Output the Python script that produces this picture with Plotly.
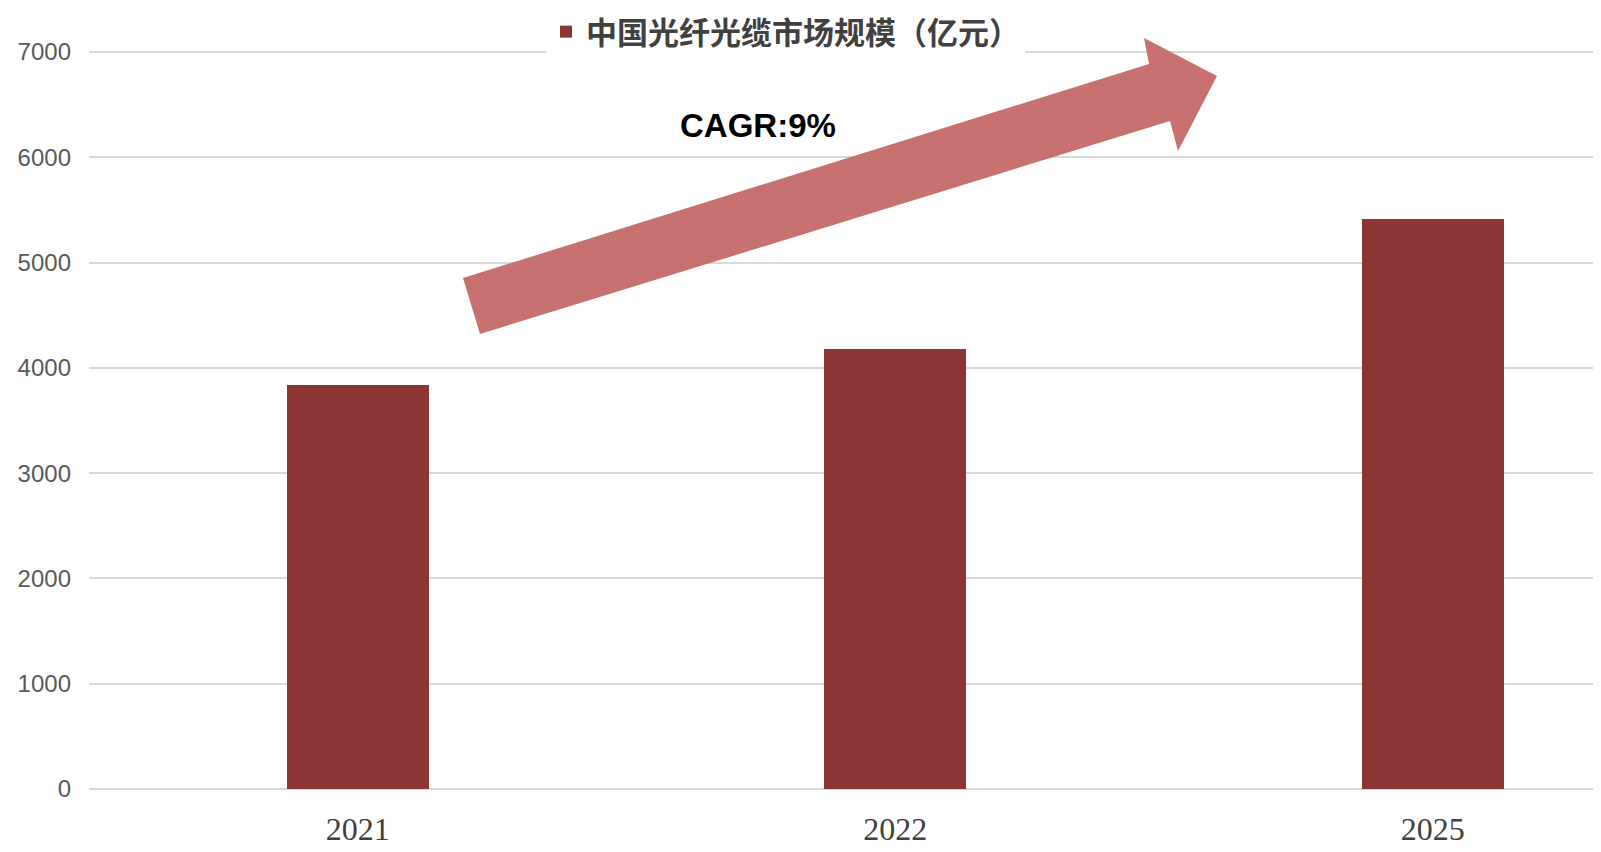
import plotly.graph_objects as go

years = ["2021", "2022", "2025"]
market_size = [3835, 4176, 5412]
series_name = "中国光纤光缆市场规模（亿元）"
y_ticks = [0, 1000, 2000, 3000, 4000, 5000, 6000, 7000]
cagr_label = "CAGR:9%"

# the page body adds an 8px offset; screen coords below are page coordinates
OFF = 8
W, H = 1601, 852
L, R, T, B = 81, 0, 43, 71
PW, PH = W - L - R, H - T - B
X0 = L + OFF            # screen x of plot left
Y0 = H - B + OFF        # screen y of value 0
YTOP = 7010


def px(x, y):
    return (x - X0) / PW, (Y0 - y) / PH


arrow_pts = [(463, 278), (1149, 64), (1144, 38), (1217, 76),
             (1178, 151), (1170, 121), (480, 334)]
path = ""
for i, (ax, ay) in enumerate(arrow_pts):
    X, Y = px(ax, ay)
    path += ("M" if i == 0 else "L") + f"{X:.5f},{Y:.5f} "
path += "Z"

fig = go.Figure()
fig.add_trace(go.Bar(
    x=years, y=market_size, name=series_name,
    marker=dict(color="#8B3535", line=dict(width=0)),
    width=0.264, showlegend=True,
))

fig.add_shape(type="path", path=path, xref="paper", yref="paper",
              fillcolor="#C87171", line=dict(width=0), layer="above")

cx, cy = px(758, 125)
fig.add_annotation(text=f"<b>{cagr_label}</b>", x=cx, y=cy, xref="paper", yref="paper",
                   showarrow=False, xanchor="center", yanchor="middle",
                   font=dict(family="Liberation Sans, Arial, sans-serif", size=33, color="#000000"))

lx, ly = px(546, 32)
x_end = (1609 - X0) / 537.5 - 0.5
fig.update_layout(
    width=W, height=H,
    margin=dict(l=L, r=R, t=T, b=B, pad=0, autoexpand=False),
    paper_bgcolor="white", plot_bgcolor="white",
    showlegend=True,
    legend=dict(x=lx, y=ly, xanchor="left", yanchor="middle",
                bgcolor="white", borderwidth=0,
                font=dict(family="Noto Sans CJK SC", size=31, color="#404040", weight="bold")),
    bargap=0,
    xaxis=dict(type="category", range=[-0.5, x_end], showgrid=False, showline=False,
               ticks="", ticklabelstandoff=18,
               tickfont=dict(family="Liberation Serif, Times New Roman, serif", size=32, color="#404040")),
    yaxis=dict(range=[0, YTOP], tickvals=y_ticks, showgrid=True, gridcolor="#D9D9D9", gridwidth=1.6,
               zeroline=True, zerolinecolor="#D9D9D9", zerolinewidth=1.6, showline=False,
               ticks="", ticklabelstandoff=17,
               tickfont=dict(family="Liberation Sans, Arial, sans-serif", size=24, color="#595959")),
)

fig.write_html("out.html")
